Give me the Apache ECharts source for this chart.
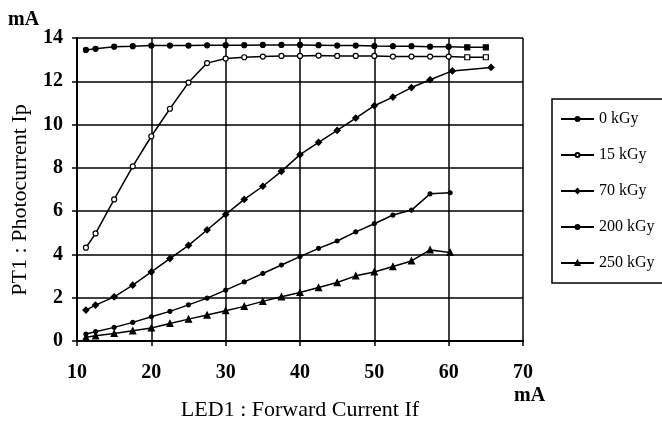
<!DOCTYPE html>
<html><head><meta charset="utf-8">
<script src="https://cdn.jsdelivr.net/npm/echarts@6/dist/echarts.min.js"></script>
<style>html,body{margin:0;padding:0;background:#fff}#c{width:662px;height:426px}</style>
</head><body><div id="c"></div>
<script>
const seriesNames = ['0 kGy', '15 kGy', '70 kGy', '200 kGy', '250 kGy'];
const xFull = [11.2, 12.5, 15, 17.5, 20, 22.5, 25, 27.5, 30, 32.5, 35, 37.5, 40, 42.5, 45, 47.5, 50, 52.5, 55, 57.5, 60, 62.5, 65];
const y0 = [13.45, 13.5, 13.6, 13.62, 13.65, 13.65, 13.65, 13.66, 13.67, 13.67, 13.68, 13.68, 13.68, 13.67, 13.65, 13.65, 13.63, 13.62, 13.62, 13.6, 13.6, 13.57, 13.57];
const y15 = [4.31, 4.97, 6.54, 8.07, 9.46, 10.73, 11.94, 12.84, 13.05, 13.11, 13.14, 13.17, 13.17, 13.19, 13.17, 13.17, 13.17, 13.14, 13.14, 13.14, 13.14, 13.11, 13.11];
const x70 = [11.2, 12.5, 15, 17.5, 20, 22.5, 25, 27.5, 30, 32.5, 35, 37.5, 40, 42.5, 45, 47.5, 50, 52.5, 55, 57.5, 60.5, 65.7];
const y70 = [1.43, 1.66, 2.04, 2.58, 3.19, 3.81, 4.42, 5.13, 5.85, 6.54, 7.15, 7.84, 8.61, 9.18, 9.73, 10.30, 10.87, 11.27, 11.71, 12.07, 12.48, 12.64];
const xLow = [11.2, 12.5, 15, 17.5, 20, 22.5, 25, 27.5, 30, 32.5, 35, 37.5, 40, 42.5, 45, 47.5, 50, 52.5, 55, 57.5, 60.2];
const y200 = [0.32, 0.43, 0.63, 0.86, 1.12, 1.37, 1.67, 1.98, 2.35, 2.73, 3.12, 3.51, 3.90, 4.28, 4.62, 5.04, 5.42, 5.82, 6.05, 6.80, 6.85];
const y250 = [0.17, 0.24, 0.35, 0.47, 0.60, 0.81, 1.01, 1.20, 1.40, 1.60, 1.83, 2.04, 2.24, 2.47, 2.70, 3.01, 3.19, 3.44, 3.70, 4.21, 4.09];
const xTicks = [10, 20, 30, 40, 50, 60, 70];
const yTicks = [0, 2, 4, 6, 8, 10, 12, 14];

const FONT = '"Liberation Serif", "DejaVu Serif", serif';
const symbols = ['circle', 'circle', 'diamond', 'circle', 'triangle'];
const sizes = [5, 5, 6, 4, 6];
// the last two points of the top two curves are drawn as squares in the original
const pair = (xs, ys, si) => xs.map((x, i) => (si < 2 && i >= xs.length - 2)
  ? {value: [x, ys[i]], symbol: 'rect'} : [x, ys[i]]);
const datas = [pair(xFull, y0, 0), pair(xFull, y15, 1), pair(x70, y70, 2), pair(xLow, y200, 3), pair(xLow, y250, 4)];

const chart = echarts.init(document.getElementById('c'), null, {renderer: 'canvas'});
chart.setOption({
  backgroundColor: '#fff',
  animation: false,
  grid: {left: 77, right: 139, top: 38, bottom: 84},
  xAxis: {
    type: 'value', min: xTicks[0], max: xTicks[xTicks.length - 1], interval: 10,
    axisLine: {lineStyle: {color: '#000', width: 2}},
    axisTick: {show: true, inside: false, length: 5, lineStyle: {color: '#000', width: 1.5}},
    splitLine: {show: true, lineStyle: {color: '#000', width: 1.5}},
    axisLabel: {color: '#000', fontFamily: FONT, fontSize: 20, fontWeight: 'bold', margin: 22},
    name: 'LED1 : Forward Current If', nameLocation: 'middle', nameGap: 58,
    nameTextStyle: {color: '#000', fontFamily: FONT, fontSize: 22}
  },
  yAxis: {
    type: 'value', min: yTicks[0], max: yTicks[yTicks.length - 1], interval: 2,
    axisLine: {show: true, lineStyle: {color: '#000', width: 2}},
    axisTick: {show: true, length: 5, lineStyle: {color: '#000', width: 1.5}},
    splitLine: {show: true, lineStyle: {color: '#000', width: 1.5}},
    axisLabel: {color: '#000', fontFamily: FONT, fontSize: 20, fontWeight: 'bold', margin: 14}
  },
  legend: {
    orient: 'vertical', left: 552, top: 99,
    data: seriesNames,
    itemWidth: 33, itemHeight: 5, itemGap: 20,
    padding: [12, 16, 12, 8],
    borderColor: '#000', borderWidth: 1.5,
    textStyle: {color: '#000', fontFamily: FONT, fontSize: 16}
  },
  graphic: [
    {type: 'text', left: 8, top: 10, style: {text: 'mA', fill: '#000', font: 'bold 20px ' + FONT}},
    {type: 'text', left: 514, top: 386, style: {text: 'mA', fill: '#000', font: 'bold 20px ' + FONT}},
    {type: 'text', x: 20, y: 200, rotation: Math.PI / 2,
     style: {text: 'PT1 : Photocurrent Ip', fill: '#000', font: '22px ' + FONT, align: 'center', verticalAlign: 'middle'}}
  ],
  series: seriesNames.map((n, i) => ({
    name: n, type: 'line', data: datas[i],
    symbol: symbols[i], symbolSize: sizes[i], showAllSymbol: true,
    itemStyle: {color: i === 1 ? '#fff' : '#000', borderColor: '#000', borderWidth: 1.2},
    lineStyle: {color: '#000', width: 1.5}
  }))
});
</script></body></html>
